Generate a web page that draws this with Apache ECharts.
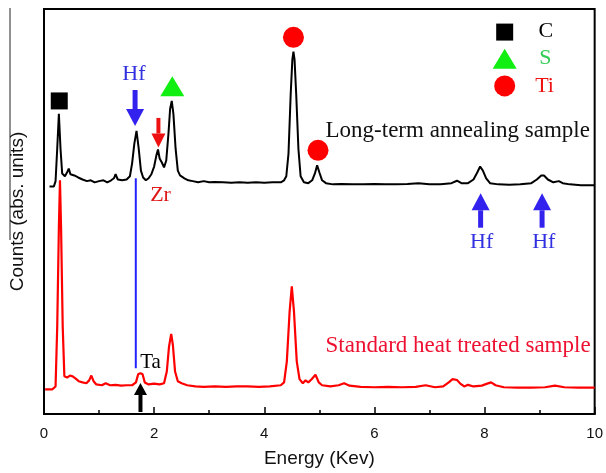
<!DOCTYPE html>
<html>
<head>
<meta charset="utf-8">
<script src="https://cdn.jsdelivr.net/npm/echarts@6/dist/echarts.min.js"></script>
<style>
html,body{margin:0;padding:0;background:#fff;}
#chart{width:606px;height:473px;}
</style>
</head>
<body>
<div id="chart"></div>
<script>
// ---- axis ----
const xTicks = [0, 2, 4, 6, 8, 10];

// ---- spectra: [energy keV, counts (arbitrary units)] ----
const longTermAnnealing = [
[0.10,56.2],[0.18,56.2],[0.21,57.5],[0.24,65.5],[0.27,74.1],[0.30,65.5],[0.33,59.4],[0.38,58.7],
[0.42,59.7],[0.45,60.6],[0.48,59.2],[0.55,58.9],[0.62,58.4],[0.70,57.9],[0.78,57.5],[0.85,57.7],
[0.92,57.2],[1.00,57.5],[1.08,57.7],[1.15,57.2],[1.22,57.7],[1.27,58.2],[1.30,59.2],[1.34,57.9],
[1.42,57.7],[1.50,57.9],[1.56,58.7],[1.60,61.9],[1.64,66.7],[1.68,69.9],[1.72,65.5],[1.76,60.1],
[1.80,58.4],[1.85,57.7],[1.90,58.2],[1.95,59.2],[2.00,61.1],[2.04,63.8],[2.07,65.3],[2.10,63.1],
[2.14,62.1],[2.18,60.9],[2.22,62.6],[2.26,69.2],[2.29,75.3],[2.32,77.3],[2.35,74.1],[2.39,65.5],
[2.43,60.1],[2.47,58.9],[2.55,58.2],[2.62,57.7],[2.70,57.5],[2.80,57.2],[2.90,57.5],[3.00,57.2],
[3.10,57.3],[3.25,57.2],[3.40,57.1],[3.55,57.2],[3.70,57.1],[3.85,57.2],[4.00,57.1],[4.15,57.2],
[4.30,57.2],[4.36,57.7],[4.40,58.7],[4.44,64.3],[4.48,79.0],[4.51,87.5],[4.53,89.5],[4.55,87.5],
[4.58,79.0],[4.62,65.5],[4.66,58.7],[4.72,57.2],[4.80,57.0],[4.87,57.7],[4.92,59.4],[4.96,61.4],
[5.00,59.7],[5.05,57.7],[5.12,57.0],[5.25,56.7],[5.40,56.8],[5.60,56.7],[5.80,56.7],[6.00,56.8],
[6.20,56.7],[6.40,56.7],[6.60,56.8],[6.80,57.0],[7.00,56.7],[7.20,56.7],[7.40,57.0],[7.50,57.6],
[7.58,57.0],[7.70,57.0],[7.80,57.9],[7.87,59.7],[7.92,61.1],[7.97,60.1],[8.03,58.2],[8.10,57.0],
[8.25,56.7],[8.45,56.6],[8.65,56.7],[8.85,57.0],[8.95,57.9],[9.03,58.9],[9.08,58.9],[9.15,57.9],
[9.25,57.2],[9.35,57.5],[9.42,57.0],[9.55,56.7],[9.75,56.5],[10.0,56.5]
];
const standardHeatTreated = [
[0.02,6.1],[0.15,6.1],[0.21,6.8],[0.24,21.5],[0.27,46.0],[0.29,57.7],[0.31,46.0],[0.34,21.5],
[0.37,9.3],[0.42,9.0],[0.47,9.5],[0.52,9.3],[0.57,8.8],[0.63,8.1],[0.70,7.8],[0.77,7.6],
[0.82,8.3],[0.86,9.5],[0.90,8.1],[0.95,7.3],[1.05,7.1],[1.12,7.6],[1.20,7.1],[1.30,7.2],
[1.40,7.0],[1.50,7.1],[1.60,7.1],[1.67,7.8],[1.71,9.8],[1.75,10.1],[1.79,9.8],[1.83,7.8],
[1.90,7.3],[2.00,7.5],[2.10,7.3],[2.18,7.6],[2.23,10.5],[2.27,16.6],[2.31,19.8],[2.34,17.1],
[2.38,10.5],[2.43,8.1],[2.50,7.6],[2.60,7.1],[2.75,6.8],[2.90,6.7],[3.10,6.8],[3.30,6.7],
[3.50,6.8],[3.70,6.8],[3.90,6.7],[4.10,6.8],[4.30,7.1],[4.36,7.8],[4.41,13.0],[4.46,25.2],
[4.50,31.5],[4.54,25.2],[4.59,13.0],[4.64,8.6],[4.70,7.6],[4.75,8.3],[4.80,7.8],[4.86,8.6],
[4.93,9.7],[4.99,7.8],[5.05,7.1],[5.20,6.8],[5.35,7.1],[5.45,7.6],[5.55,7.0],[5.75,6.7],
[6.00,6.6],[6.25,6.7],[6.50,6.6],[6.75,6.7],[6.93,7.1],[7.10,6.6],[7.25,6.8],[7.35,7.8],
[7.42,8.6],[7.50,8.4],[7.56,7.5],[7.63,6.8],[7.70,7.2],[7.80,6.8],[7.95,7.0],[8.05,7.5],
[8.12,7.8],[8.20,7.1],[8.35,6.6],[8.60,6.5],[8.85,6.5],[9.10,6.6],[9.28,7.0],[9.45,6.6],
[9.70,6.5],[10.0,6.5]
];

// ---- annotations (data coordinates) ----
const hfGuideLine = [[1.667, 58.2], [1.667, 11.3]];
const squareMarks = [[0.277, 77.3], [8.366, 94.3]];
const triangleMarks = [[2.33, 80.9], [8.366, 87.7]];
const circleMarks = [[4.53, 93.0], [4.976, 65.1], [8.366, 81.0]];
// [x, tail y, tip y]
const arrowMarks = [[1.654, 80.0, 71.1], [2.078, 73.1, 65.8], [7.929, 46.0, 54.5], [9.045, 46.0, 54.5], [1.752, 0.5, 7.65]];
const labelTexts = ['Hf', 'Zr', 'Hf', 'Hf', 'Ta', 'Long-term annealing sample', 'Standard heat treated sample', 'C', 'S', 'Ti'];
const labelPos = [[1.634, 83.8], [2.116, 54.1], [7.947, 42.3], [9.076, 42.3], [1.935, 12.8], [7.514, 69.8], [7.52, 16.9], [9.112, 94.6], [9.105, 87.9], [9.09, 80.9]];

// ---- styles ----
const BLUE = '#3322ee', RED = '#ee1111', GREEN = '#11ee11';
const arrowStyle = [
  {c: BLUE, hw: 18, hh: 17, sw: 5},
  {c: RED, hw: 14, hh: 14, sw: 4},
  {c: BLUE, hw: 18, hh: 17, sw: 5},
  {c: BLUE, hw: 18, hh: 17, sw: 5},
  {c: '#000', hw: 13, hh: 12, sw: 4}
];
const labelStyle = [
  {c: '#3030e0', s: 22}, {c: '#e01818', s: 22}, {c: '#3030e0', s: 22}, {c: '#3030e0', s: 22},
  {c: '#000', s: 21}, {c: '#111', s: 23}, {c: '#ee1030', s: 23},
  {c: '#000', s: 22}, {c: '#33cc55', s: 22}, {c: '#ee1111', s: 22}
];
const SERIF = '"Liberation Serif","Times New Roman",serif';
const SANS = '"Liberation Sans",Arial,sans-serif';

const chart = echarts.init(document.getElementById('chart'), null, {renderer: 'canvas'});
chart.setOption({
  animation: false,
  backgroundColor: '#fff',
  grid: {left: 44, right: 10, top: 9, bottom: 55, show: true, borderColor: '#000', borderWidth: 2},
  xAxis: {
    type: 'value', min: xTicks[0], max: xTicks[xTicks.length - 1], interval: 2,
    axisLine: {show: true, lineStyle: {color: '#000', width: 2}},
    axisTick: {show: true, inside: true, length: 7, lineStyle: {color: '#000', width: 1.5}},
    minorTick: {show: true, splitNumber: 2, length: 4, lineStyle: {color: '#000', width: 1.5}},
    splitLine: {show: false},
    axisLabel: {fontSize: 15, color: '#111', fontFamily: SANS, margin: 12},
    name: 'Energy (Kev)', nameLocation: 'middle', nameGap: 35,
    nameTextStyle: {fontSize: 19, color: '#111', fontFamily: SANS}
  },
  yAxis: {
    type: 'value', min: 0, max: 100,
    axisLine: {show: true, lineStyle: {color: '#000', width: 2}},
    axisTick: {show: false}, axisLabel: {show: false}, splitLine: {show: false},
    name: 'Counts (abs. units)', nameLocation: 'middle', nameGap: 17,
    nameTextStyle: {fontSize: 19, color: '#111', fontFamily: SANS}
  },
  graphic: [{type: 'line', shape: {x1: 10, y1: 8, x2: 10, y2: 240}, style: {stroke: '#222', lineWidth: 1}}],
  series: [
    {type: 'line', data: hfGuideLine, symbol: 'none', lineStyle: {color: '#2222ff', width: 2}, z: 1},
    {type: 'line', data: standardHeatTreated, symbol: 'none', lineStyle: {color: '#ff0000', width: 2.2}, z: 2},
    {type: 'line', data: longTermAnnealing, symbol: 'none', lineStyle: {color: '#000', width: 2}, z: 3},
    {type: 'scatter', data: squareMarks, symbol: 'rect', symbolSize: 17, itemStyle: {color: '#000', opacity: 1}, z: 5},
    {type: 'scatter', data: triangleMarks, symbol: 'triangle', symbolSize: [24, 20], itemStyle: {color: GREEN, opacity: 1}, z: 5},
    {type: 'scatter', data: circleMarks, symbol: 'circle', symbolSize: 21, itemStyle: {color: '#ff0000', opacity: 1}, z: 5},
    {
      type: 'custom', data: arrowMarks, z: 6,
      renderItem: function (params, api) {
        const st = arrowStyle[params.dataIndex];
        const tail = api.coord([api.value(0), api.value(1)]);
        const tip = api.coord([api.value(0), api.value(2)]);
        const dir = tip[1] > tail[1] ? 1 : -1;
        const base = tip[1] - dir * st.hh;
        return {
          type: 'group', children: [
            {type: 'rect', shape: {x: tail[0] - st.sw / 2, y: Math.min(tail[1], base), width: st.sw, height: Math.abs(base - tail[1])}, style: {fill: st.c}},
            {type: 'polygon', shape: {points: [[tip[0], tip[1]], [tip[0] - st.hw / 2, base], [tip[0] + st.hw / 2, base]]}, style: {fill: st.c}}
          ]
        };
      }
    },
    {
      type: 'custom', data: labelPos, z: 7,
      renderItem: function (params, api) {
        const st = labelStyle[params.dataIndex];
        const p = api.coord([api.value(0), api.value(1)]);
        return {type: 'text', x: p[0], y: p[1], style: {text: labelTexts[params.dataIndex], fill: st.c, font: st.s + 'px ' + SERIF, align: 'center', verticalAlign: 'middle'}};
      }
    }
  ]
});
</script>
</body>
</html>
